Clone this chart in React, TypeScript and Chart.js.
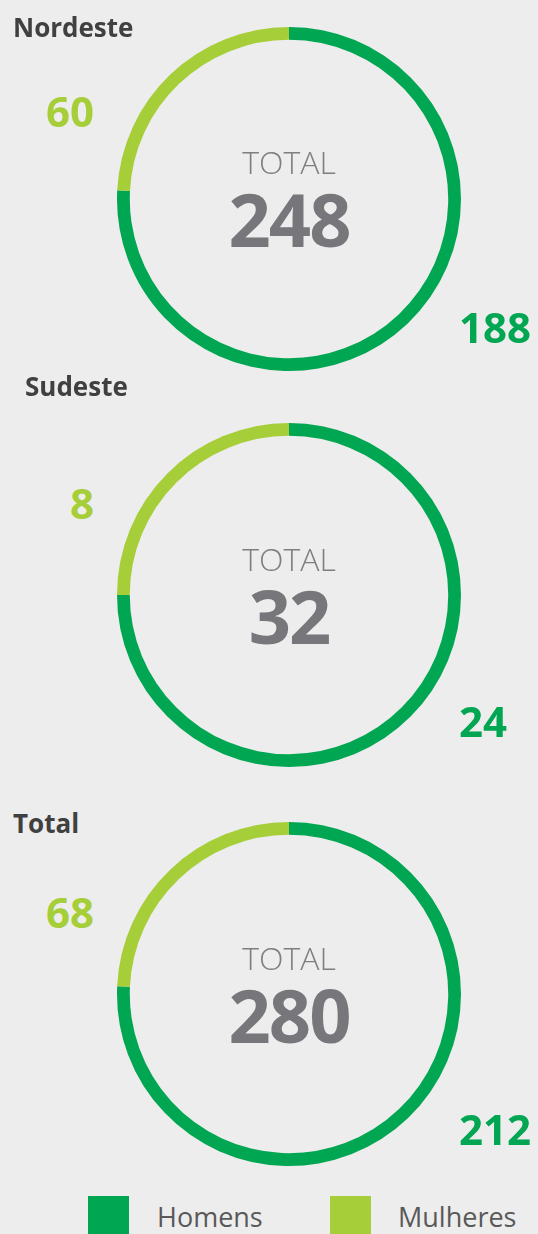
import React, { useEffect, useRef } from "react";
import { Chart, registerables } from "chart.js";

Chart.register(...registerables);

const regions = ["Nordeste", "Sudeste", "Total"];
const seriesLabels = ["Homens", "Mulheres"];
const homens = [188, 24, 212];
const mulheres = [60, 8, 68];
const totals = [248, 32, 280];
const centerLabel = "TOTAL";

const DARK = "#00a651";
const LIGHT = "#a6ce39";
const BG = "#ededed";
const FONT = "'Open Sans', sans-serif";

// layout (pixels in page)
const CX = 289;
const centerYs = [198.5, 595, 994];
const titleBase = [37, 396, 833];
const titleLeft = [13, 25, 13];
const leftBase = [127, 519, 928];
const rightBase = [343, 737, 1145];
const SIZE = 350;

function Ring({ idx }: { idx: number }) {
  const ref = useRef<HTMLCanvasElement | null>(null);
  useEffect(() => {
    if (!ref.current) return;
    const chart = new Chart(ref.current, {
      type: "doughnut",
      data: {
        labels: seriesLabels,
        datasets: [
          {
            data: [homens[idx], mulheres[idx]],
            backgroundColor: [DARK, LIGHT],
            borderWidth: 0,
          },
        ],
      },
      options: {
        animation: false,
        responsive: false,
        maintainAspectRatio: false,
        radius: 172,
        cutout: 162,
        rotation: 0,
        layout: { padding: 0 },
        plugins: { legend: { display: false }, tooltip: { enabled: false } },
        events: [],
      },
    });
    return () => chart.destroy();
  }, [idx]);
  const cy = centerYs[idx];
  const abs = (top: number, extra: React.CSSProperties): React.CSSProperties => ({
    position: "absolute",
    top,
    lineHeight: 1,
    whiteSpace: "nowrap",
    fontFamily: FONT,
    ...extra,
  });
  return (
    <>
      <canvas
        ref={ref}
        width={SIZE}
        height={SIZE}
        style={{ position: "absolute", left: CX - SIZE / 2, top: cy - SIZE / 2, width: SIZE, height: SIZE }}
      />
      <div style={abs(titleBase[idx] - 0.888 * 26, { left: titleLeft[idx], fontSize: 26, fontWeight: 700, color: "#404040" })}>
        {regions[idx]}
      </div>
      <div style={abs(cy - 52.4, { left: CX - 100, width: 200, textAlign: "center", fontSize: 32, fontWeight: 300, color: "#7f7f7f" })}>
        {centerLabel}
      </div>
      <div style={abs(cy + 49.5 - 0.888 * 74, { left: CX - 150, width: 300, textAlign: "center", fontSize: 74, fontWeight: 700, color: "#77777b", letterSpacing: -2 })}>
        {totals[idx]}
      </div>
      <div style={abs(leftBase[idx] - 0.888 * 42, { right: 538 - 94, textAlign: "right", fontSize: 42, fontWeight: 700, color: LIGHT })}>
        {mulheres[idx]}
      </div>
      <div style={abs(rightBase[idx] - 0.888 * 42, { left: 459, fontSize: 42, fontWeight: 700, color: DARK })}>
        {homens[idx]}
      </div>
    </>
  );
}

export default function App() {
  const legendColors = [DARK, LIGHT];
  const legendBox = [88, 330];
  const legendText = [157, 398];
  return (
    <div style={{ position: "fixed", left: 0, top: 0, width: 538, height: 1234, background: BG, overflow: "hidden" }}>
      {regions.map((_, i) => (
        <Ring key={i} idx={i} />
      ))}
      {seriesLabels.map((s, i) => (
        <React.Fragment key={s}>
          <div style={{ position: "absolute", left: legendBox[i], top: 1196, width: 41, height: 41, background: legendColors[i] }} />
          <div
            style={{
              position: "absolute",
              left: legendText[i],
              top: 1227 - 0.888 * 27,
              lineHeight: 1,
              fontFamily: FONT,
              fontSize: 27,
              color: "#595959",
              whiteSpace: "nowrap",
            }}
          >
            {s}
          </div>
        </React.Fragment>
      ))}
    </div>
  );
}
